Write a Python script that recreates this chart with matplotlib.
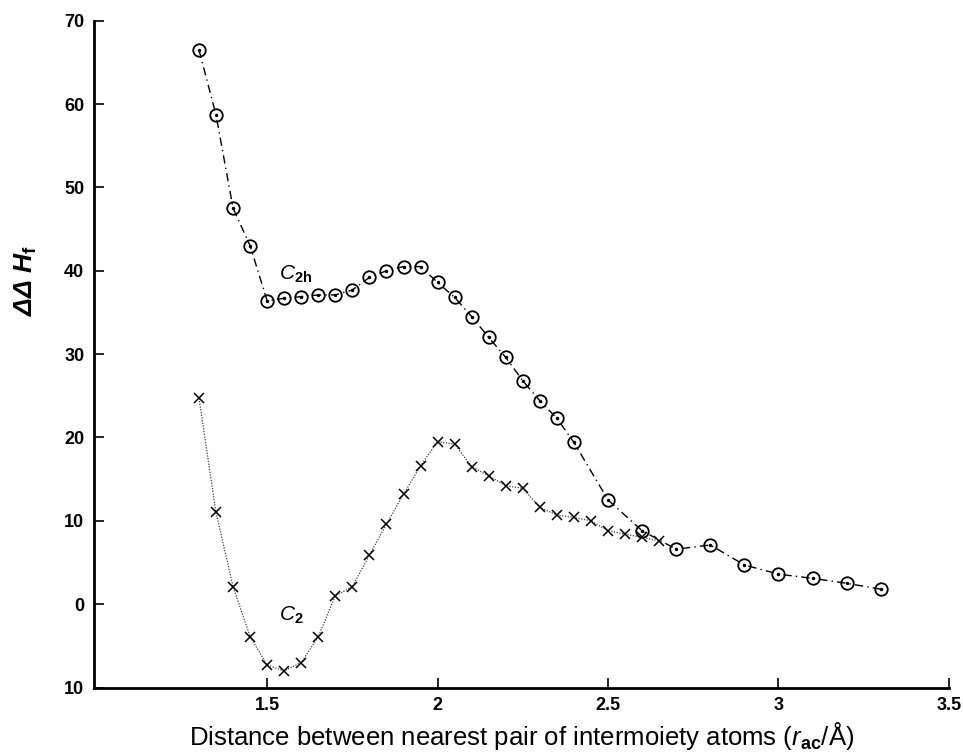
import matplotlib
matplotlib.use('Agg')
import matplotlib.pyplot as plt

plt.rcParams['font.family'] = ['Liberation Sans', 'DejaVu Sans']
plt.rcParams['mathtext.fontset'] = 'custom'
plt.rcParams['mathtext.rm'] = 'Liberation Sans'
plt.rcParams['mathtext.it'] = 'Liberation Sans:italic'
plt.rcParams['mathtext.bf'] = 'Liberation Sans:bold'
plt.rcParams['mathtext.bfit'] = 'Liberation Sans:italic:bold'

# C2h conformation (open circles)
c2h_x = [1.30, 1.35, 1.40, 1.45, 1.50, 1.55, 1.60, 1.65, 1.70, 1.75, 1.80,
         1.85, 1.90, 1.95, 2.00, 2.05, 2.10, 2.15, 2.20, 2.25, 2.30, 2.35,
         2.40, 2.50, 2.60, 2.70, 2.80, 2.90, 3.00, 3.10, 3.20, 3.30]
c2h_y = [66.5, 58.7, 47.5, 43.0, 36.4, 36.7, 36.9, 37.1, 37.1, 37.7, 39.2,
         40.0, 40.5, 40.5, 38.6, 36.8, 34.5, 32.0, 29.6, 26.8, 24.4, 22.3,
         19.4, 12.5, 8.8, 6.6, 7.1, 4.7, 3.6, 3.1, 2.5, 1.8]

# C2 conformation (crosses)
c2_x = [1.30, 1.35, 1.40, 1.45, 1.50, 1.55, 1.60, 1.65, 1.70, 1.75, 1.80,
        1.85, 1.90, 1.95, 2.00, 2.05, 2.10, 2.15, 2.20, 2.25, 2.30, 2.35,
        2.40, 2.45, 2.50, 2.55, 2.60, 2.65]
c2_y = [24.7, 11.0, 2.1, -3.9, -7.3, -8.0, -7.0, -3.9, 1.0, 2.1, 5.9,
        9.6, 13.2, 16.6, 19.5, 19.2, 16.5, 15.4, 14.2, 13.9, 11.6, 10.7,
        10.4, 10.0, 8.8, 8.4, 8.0, 7.6]

x_ticks = [1.5, 2, 2.5, 3, 3.5]
x_ticklabels = ['1.5', '2', '2.5', '3', '3.5']
y_ticks = [-10, 0, 10, 20, 30, 40, 50, 60, 70]
y_ticklabels = ['10', '0', '10', '20', '30', '40', '50', '60', '70']

fig = plt.figure(figsize=(9.63, 7.56), dpi=100)
ax = fig.add_axes([0.0976, 0.0906, 0.8878, 0.8820])

# C2 curve: thin dotted line with x markers
ax.plot(c2_x, c2_y, linestyle=(0, (1, 1.2)), color='0.25', linewidth=0.9,
        marker='x', markersize=7, markeredgewidth=1.1, markeredgecolor='black')

# C2h curve: dash-dot line with open circles
ax.plot(c2h_x, c2h_y, linestyle=(0, (6, 3, 1, 3)), color='black', linewidth=1.0,
        marker='o', markersize=9, markerfacecolor='none',
        markeredgecolor='black', markeredgewidth=1.3)
ax.plot(c2h_x, c2h_y, linestyle='none', marker='o', markersize=1.5, color='black')

ax.text(1.535, 39.6, r'$C_{\mathbf{2h}}$', fontsize=15, va='center', ha='left')
ax.text(1.535, -1.3, r'$C_{\mathbf{2}}$', fontsize=15, va='center', ha='left')

ax.set_xlim(0.992, 3.5)
ax.set_ylim(-10, 70)
ax.set_xticks(x_ticks)
ax.set_xticklabels(x_ticklabels, fontweight='bold')
ax.set_yticks(y_ticks)
ax.set_yticklabels(y_ticklabels, fontweight='bold')

ax.tick_params(direction='in', length=7, width=1.2, pad=7, labelsize=13)

for side in ['top', 'right']:
    ax.spines[side].set_visible(False)
for side in ['left', 'bottom']:
    ax.spines[side].set_linewidth(2.0)

ax.set_xlabel(r'Distance between nearest pair of intermoiety atoms ($r_{\mathbf{ac}}$/Å)',
              fontsize=18.5)
ax.xaxis.set_label_coords(0.5, -0.048)
ax.set_ylabel(r'$\mathbfit{\Delta\Delta\ H}_{\mathbf{f}}$', fontsize=19)
ax.yaxis.set_label_coords(-0.064, 0.61)

fig.savefig('out.png', dpi=100)
